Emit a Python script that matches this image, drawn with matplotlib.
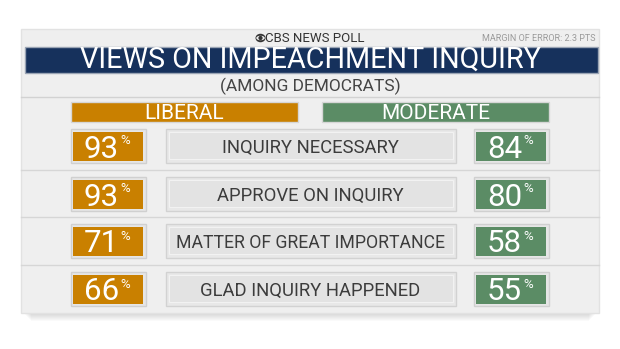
import matplotlib.pyplot as plt
from matplotlib.patches import Rectangle, Ellipse, Circle

plt.rcParams['font.family'] = ['Roboto', 'DejaVu Sans']

title = "VIEWS ON IMPEACHMENT INQUIRY"
subtitle = "(AMONG DEMOCRATS)"
source = "CBS NEWS POLL"
margin = "MARGIN OF ERROR: 2.3 PTS"
groups = ["LIBERAL", "MODERATE"]
questions = ["INQUIRY NECESSARY", "APPROVE ON INQUIRY",
             "MATTER OF GREAT IMPORTANCE", "GLAD INQUIRY HAPPENED"]
liberal = [93, 93, 71, 66]
moderate = [84, 80, 58, 55]

orange = "#c98000"
green = "#5b8c65"
navy = "#16315c"

fig = plt.figure(figsize=(6.2, 3.49), dpi=100)
ax = fig.add_axes([0, 0, 1, 1])
ax.set_xlim(0, 620)
ax.set_ylim(349, 0)
ax.axis('off')
renderer = fig.canvas.get_renderer()

# panel + shadow
for i in range(8):
    ax.add_patch(Rectangle((24 + i, 300), 572 - 2 * i, 14 + i, color="#000000",
                           alpha=0.018, lw=0))
ax.add_patch(Rectangle((21, 29), 578, 284, facecolor="#efefef", edgecolor="#e2e2e2", lw=1))

# header
ax.add_patch(Ellipse((260.5, 38), 10, 8.5, facecolor="#333333", lw=0))
ax.add_patch(Ellipse((260.5, 38), 8.5, 4.5, facecolor="#efefef", lw=0))
ax.add_patch(Circle((260.5, 38), 2.1, facecolor="#333333", lw=0))
ax.text(265, 38.3, source, ha='left', va='center', fontsize=9.5, color="#333333")
ax.text(596, 38.5, margin, ha='right', va='center', fontsize=6.5, color="#9a9a9a")

ax.add_patch(Rectangle((24.5, 46.5), 573, 26, facecolor=navy, edgecolor="#9aa4b4", lw=1))
ax.text(310, 67.6, title, ha='center', va='baseline', fontsize=20.7, color="white")
ax.text(310, 86, subtitle, ha='center', va='center', fontsize=12.5, color="#444444")
ax.plot([21, 599], [96.7, 96.7], color="#d2d2d2", lw=1)

# column headers
for x0, name, col in [(70.5, groups[0], orange), (322, groups[1], green)]:
    ax.add_patch(Rectangle((x0, 101.5), 227, 20.5, facecolor=col, edgecolor="#d6d6d6", lw=1))
    ax.text(x0 + 113.5, 119.3, name, ha='center', va='baseline', fontsize=15,
            color="white")

row_y = [146, 194, 241, 289]
for i, q in enumerate(questions):
    y = row_y[i]
    if i > 0:
        ax.plot([21, 599], [y - 24, y - 24], color="#d6d6d6", lw=1)
    # question box
    ax.add_patch(Rectangle((167, y + 13), 289, 4.5, color="#000000", alpha=0.10, lw=0))
    ax.add_patch(Rectangle((165.5, y - 17), 290, 34, facecolor="#e8e8e8",
                           edgecolor="#d2d2d2", lw=1))
    ax.add_patch(Rectangle((168.5, y - 14.5), 284, 27, facecolor="#e3e3e3",
                           edgecolor="#f2f2f2", lw=0.8))
    t = ax.text(310.5, y + 7.3, q, ha='center', va='baseline', fontsize=13.3,
                color="#3c3c3c")
    w = t.get_window_extent(renderer).width
    if w > 268:
        t.set_fontsize(13.3 * 268 / w)
    # value boxes
    for cx, v, col in [(108, liberal[i], orange), (511, moderate[i], green)]:
        ax.add_patch(Rectangle((cx - 37.5, y - 17), 75, 34, facecolor="#e6e6e6",
                               edgecolor="#d0d0d0", lw=1))
        ax.add_patch(Rectangle((cx - 35, y - 14.5), 70, 29.5, facecolor=col, lw=0))
        ax.text(cx + 11, y + 11.5, str(v), ha='right', va='baseline', fontsize=22.5,
                color="white")
        ax.text(cx + 12.5, y - 1.5, "%", ha='left', va='baseline', fontsize=9.5,
                color="white")

fig.savefig("out.png", dpi=100)
